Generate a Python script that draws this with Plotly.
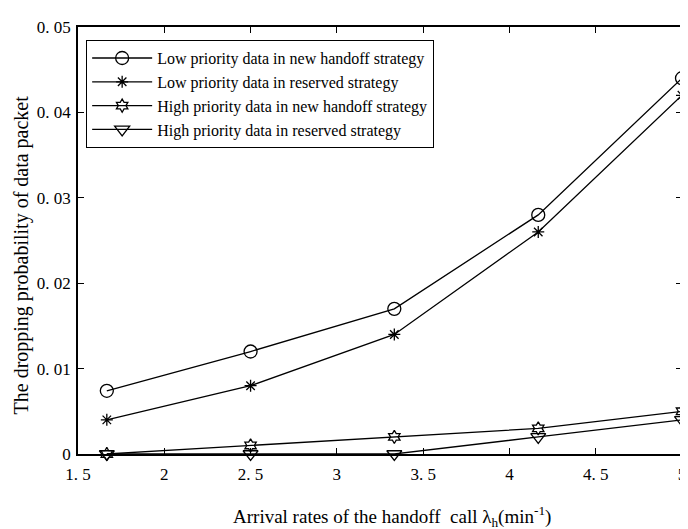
import plotly.graph_objects as go

x_rates = [1.667, 2.5, 3.333, 4.167, 5.0]
low_new = [0.0074, 0.012, 0.017, 0.028, 0.044]
low_reserved = [0.004, 0.008, 0.014, 0.026, 0.042]
high_new = [0.0, 0.001, 0.002, 0.003, 0.005]
high_reserved = [0.0, 0.0, 0.0, 0.002, 0.004]

series_names = [
    "Low priority data in new handoff strategy",
    "Low priority data in reserved strategy",
    "High priority data in new handoff strategy",
    "High priority data in reserved strategy",
]
series_symbols = ["circle-open", "asterisk-open", "hexagram-open", "triangle-down-open"]
series_sizes = [13, 10, 10, 13]

x_tickvals = [1.5, 2, 2.5, 3, 3.5, 4, 4.5, 5]
x_ticktext = ["1. 5", "2", "2. 5", "3", "3. 5", "4", "4. 5", "5"]
y_tickvals = [0, 0.01, 0.02, 0.03, 0.04, 0.05]
y_ticktext = ["0", "0. 01", "0. 02", "0. 03", "0. 04", "0. 05"]

x_title = "Arrival rates of the handoff  call λ<sub>h</sub>(min<sup>-1</sup>)"
y_title = "The dropping probability of data packet"

FONT = "Liberation Serif"

fig = go.Figure()
for name, ys, sym, sz in zip(series_names, [low_new, low_reserved, high_new, high_reserved],
                             series_symbols, series_sizes):
    fig.add_trace(go.Scatter(
        x=x_rates, y=ys, mode="lines+markers", name=name,
        line=dict(color="black", width=1.3),
        marker=dict(symbol=sym, size=sz, color="black", line=dict(color="black", width=1.3)),
        cliponaxis=False,
    ))

axis_common = dict(
    showgrid=False, zeroline=False, showline=True, linecolor="black", linewidth=1.5,
    mirror="ticks", ticks="inside", ticklen=6, tickcolor="black", tickwidth=1,
    tickfont=dict(family=FONT, size=17, color="black"),
)

fig.update_layout(
    width=688, height=529,
    margin=dict(l=70, r=10, t=10, b=83),
    paper_bgcolor="white", plot_bgcolor="white",
    font=dict(family=FONT, color="black"),
    showlegend=True,
    legend=dict(
        x=0.013, y=0.97, xanchor="left", yanchor="top",
        bordercolor="black", borderwidth=1.3, bgcolor="white",
        font=dict(family=FONT, size=16, color="black"),
        itemwidth=60, tracegroupgap=0,
    ),
    xaxis=dict(range=[1.5, 5], tickvals=x_tickvals, ticktext=x_ticktext,
               ticklabelstandoff=4, **axis_common),
    yaxis=dict(range=[0, 0.05], tickvals=y_tickvals, ticktext=y_ticktext,
               ticklabelstandoff=2, **axis_common),
    annotations=[
        dict(text=x_title, xref="paper", yref="paper", x=0.52, y=0, yshift=-62,
             xanchor="center", yanchor="middle", showarrow=False,
             font=dict(family=FONT, size=19, color="black")),
        dict(text=y_title, xref="paper", yref="paper", x=0, y=0.465, xshift=-57,
             xanchor="center", yanchor="middle", textangle=-90, showarrow=False,
             font=dict(family=FONT, size=20, color="black")),
    ],
)

fig.write_html("out.html")
